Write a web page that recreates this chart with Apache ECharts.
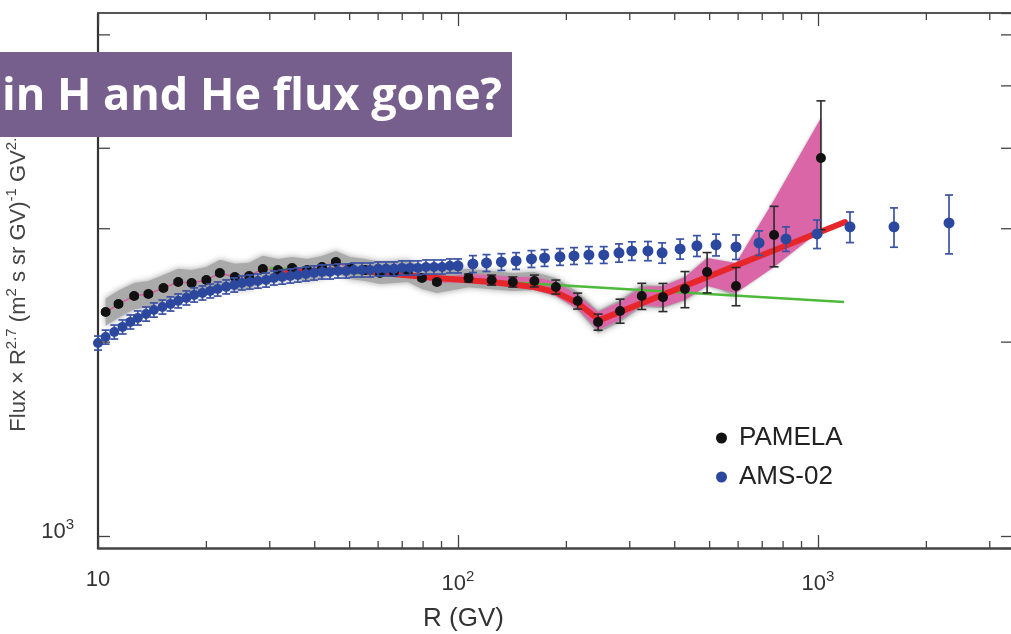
<!DOCTYPE html>
<html><head><meta charset="utf-8">
<script src="https://cdn.jsdelivr.net/npm/echarts@6/dist/echarts.min.js"></script>
<style>html,body{margin:0;padding:0;background:#fff}#c{width:1011px;height:634px}</style>
</head><body><div id="c"></div>
<script>
// ---------- data ----------
const pamelaR = [10.5, 11.4, 12.6, 13.8, 15.2, 16.7, 18.2, 20.0, 21.8, 24.0, 26.3, 28.7, 31.6, 34.6, 38.1, 41.9, 45.8, 50.1, 55.2, 60.7, 66.4, 72.6, 79.4, 87.4, 107, 124, 142, 163, 187, 215, 245, 282, 324, 371, 427, 492, 592, 755, 1019];
const pamelaFlux = [2227, 2292, 2358, 2375, 2427, 2480, 2471, 2497, 2561, 2525, 2534, 2598, 2588, 2607, 2588, 2617, 2664, 2607, 2588, 2561, 2570, 2579, 2515, 2480, 2515, 2497, 2480, 2489, 2436, 2317, 2149, 2236, 2358, 2349, 2418, 2570, 2445, 2934, 3864];
const pamelaErr = [15, 15, 16, 16, 16, 17, 17, 17, 18, 18, 18, 18, 19, 19, 19, 19, 20, 20, 20, 20, 21, 21, 21, 21, 36, 45, 45, 53, 61, 66, 62, 96, 110, 118, 156, 185, 167, 316, 875];
// relative half-width of the grey systematic band (null = no band)
const pamelaSysRel = [0.050, 0.050, 0.048, 0.048, 0.048, 0.048, 0.048, 0.048, 0.048, 0.048, 0.048, 0.048, 0.040, 0.040, 0.040, 0.040, 0.040, 0.040, 0.040, 0.040, 0.040, 0.040, 0.040, 0.040, 0.033, 0.033, 0.033, 0.033, 0.033, 0.033, 0.040, 0.040, 0.040, 0.040, 0.040, 0.040, 0.040, null, null];

const pinkR = [87.4, 107, 124, 142, 163, 187, 215, 245, 282, 324, 371, 427, 492, 592, 755, 1019];
const pinkLow = [2471, 2480, 2454, 2436, 2410, 2358, 2252, 2088, 2164, 2283, 2267, 2325, 2445, 2384, 2617, 2987];
const pinkHigh = [2515, 2552, 2543, 2525, 2525, 2480, 2367, 2227, 2308, 2436, 2445, 2525, 2702, 2654, 3324, 4458];

const redR = [31.6, 50.1, 87.4, 124, 163, 187, 215, 247, 1189];
const redFlux = [2570, 2588, 2515, 2480, 2436, 2392, 2300, 2164, 3073];

const greenR = [30.0, 187, 1181];
const greenFlux = [2607, 2454, 2308];

const amsR = [10.0, 10.5, 11.1, 11.7, 12.3, 12.9, 13.6, 14.3, 15.1, 15.9, 16.7, 17.6, 18.5, 19.5, 20.5, 21.5, 22.7, 23.9, 25.1, 26.4, 27.8, 29.3, 30.8, 32.5, 34.2, 35.9, 37.8, 39.8, 41.9, 44.1, 46.4, 48.9, 51.4, 54.1, 57.0, 60.0, 63.1, 66.4, 69.9, 73.6, 77.4, 81.5, 85.8, 90.3, 95.0, 100,
  110, 120, 132, 145, 160, 174, 192, 210, 231, 254, 280, 304, 337, 369, 414, 461, 521, 592, 686, 815, 994, 1227, 1626, 2312];
const amsFlux = [1994, 2037, 2074, 2112, 2150, 2181, 2212, 2244, 2268, 2293, 2318, 2343, 2368, 2385, 2402, 2419, 2437, 2454, 2472, 2480, 2489, 2498, 2516, 2525, 2534, 2543, 2552, 2562, 2571, 2571, 2580, 2580, 2589, 2589, 2589, 2599, 2599, 2599, 2608, 2608, 2608, 2617, 2617, 2617, 2627, 2627,
  2645, 2655, 2664, 2674, 2693, 2703, 2713, 2722, 2732, 2732, 2752, 2771, 2771, 2752, 2791, 2822, 2832, 2811, 2852, 2893, 2945, 3020, 3020, 3063];
const amsErr = [50, 51, 52, 53, 54, 55, 56, 57, 57, 58, 58, 59, 60, 60, 60, 61, 61, 62, 62, 62, 63, 63, 63, 64, 64, 64, 64, 65, 65, 65, 65, 65, 65, 65, 65, 65, 65, 65, 66, 66, 66, 66, 66, 66, 66, 66,
  80, 80, 80, 80, 81, 81, 81, 82, 82, 82, 90, 92, 95, 100, 100, 105, 110, 123, 125, 127, 150, 165, 212, 321];

const xMinorTicks = [20, 30, 40, 50, 60, 70, 80, 90, 200, 300, 400, 500, 600, 700, 800, 900, 2000, 3000];
const yMinorTicks = [2000, 3000, 4000, 5000, 6000];

const titleText = 'in H and He flux gone?';
const xName = 'R (GV)';
const yNameRich = '{n|Flux × R}{s|2.7}{n| (m}{s|2}{n| s sr GV)}{s|-1}{n| GV}{s|2.7}';

// ---------- chart ----------
const X_MIN = 10, X_MAX = 3481, Y_MIN = 958, Y_MAX = 6488;
const FONT = 'Liberation Sans';
const chart = echarts.init(document.getElementById('c'));

function powLabel(v) {
  const l = Math.log10(v), e = Math.round(l);
  if (Math.abs(l - e) > 1e-6) return '';
  return e === 1 ? '{b|10}' : '{b|10}{s|' + e + '}';
}
const labelRich = {
  b: {fontSize: 22, fontFamily: FONT, color: '#333'},
  s: {fontSize: 15, fontFamily: FONT, color: '#333', padding: [0, 0, 14, 0]}
};

function errRender(capW, color, lw) {
  return function (params, api) {
    const x = api.value(0), lo = api.value(1), hi = api.value(2);
    const a = api.coord([x, hi]), b = api.coord([x, lo]);
    const st = {stroke: color, lineWidth: lw};
    return {type: 'group', children: [
      {type: 'line', shape: {x1: a[0], y1: a[1], x2: b[0], y2: b[1]}, style: st},
      {type: 'line', shape: {x1: a[0] - capW / 2, y1: a[1], x2: a[0] + capW / 2, y2: a[1]}, style: st},
      {type: 'line', shape: {x1: b[0] - capW / 2, y1: b[1], x2: b[0] + capW / 2, y2: b[1]}, style: st}
    ]};
  };
}
function bandRender(rows, style) {
  return function (params, api) {
    if (params.dataIndex !== 0) return null;
    const up = [], dn = [];
    rows.forEach(r => { up.push(api.coord([r[0], r[2]])); dn.push(api.coord([r[0], r[1]])); });
    return {type: 'polygon', shape: {points: up.concat(dn.reverse())}, style: style};
  };
}

const grayRows = [];
pamelaR.forEach((r, i) => {
  const f = pamelaSysRel[i];
  if (f != null) grayRows.push([r, pamelaFlux[i] / (1 + f), pamelaFlux[i] * (1 + f)]);
});
const pinkRows = pinkR.map((r, i) => [r, pinkLow[i], pinkHigh[i]]);
const lowPam = pamelaR.map((r, i) => [r, pamelaFlux[i]]).filter(p => p[0] < 90);

const option = {
  animation: false,
  backgroundColor: '#fff',
  grid: {left: 98, top: 13, width: 915, height: 535, containLabel: false, outerBoundsMode: 'none'},
  xAxis: [{
    type: 'log', min: X_MIN, max: X_MAX, position: 'bottom',
    axisLine: {lineStyle: {color: '#444', width: 2.5}},
    axisTick: {inside: true, length: 13, lineStyle: {color: '#444', width: 1.3}},
    axisLabel: {formatter: powLabel, rich: labelRich, margin: 21, showMinLabel: true, showMaxLabel: false},
    splitLine: {show: false},
    name: xName, nameLocation: 'middle', nameGap: 58,
    nameTextStyle: {fontSize: 26, fontFamily: FONT, color: '#333', padding: [0, 184, 0, 0]}
  }, {
    type: 'log', min: X_MIN, max: X_MAX, position: 'top',
    axisLine: {lineStyle: {color: '#555', width: 1.8}},
    axisTick: {inside: true, length: 13, lineStyle: {color: '#444', width: 1.3}},
    axisLabel: {show: false}, splitLine: {show: false}
  }],
  yAxis: [{
    type: 'log', min: Y_MIN, max: Y_MAX, position: 'left',
    axisLine: {lineStyle: {color: '#333', width: 2.2}},
    axisTick: {inside: true, length: 12, lineStyle: {color: '#444', width: 1.3}},
    axisLabel: {formatter: powLabel, rich: labelRich, margin: 24, padding: [0, 0, 8, 0], showMinLabel: false, showMaxLabel: false},
    splitLine: {show: false},
    name: yNameRich, nameLocation: 'middle', nameRotate: 90, nameGap: 58,
    nameTextStyle: {rich: {
      n: {fontSize: 22, fontFamily: FONT, color: '#444'},
      s: {fontSize: 15, fontFamily: FONT, color: '#444', padding: [0, 0, 14, 0]}
    }}
  }, {
    type: 'log', min: Y_MIN, max: Y_MAX, position: 'right',
    axisLine: {lineStyle: {color: '#444', width: 2}},
    axisTick: {inside: true, length: 12, lineStyle: {color: '#444', width: 1.3}},
    axisLabel: {show: false}, splitLine: {show: false}
  }],
  legend: {
    orient: 'vertical', left: 711, top: 420, itemWidth: 11, itemHeight: 11, itemGap: 13,
    icon: 'circle', selectedMode: false,
    data: ['PAMELA', 'AMS-02'],
    textStyle: {fontSize: 26, fontFamily: FONT, color: '#222', padding: [0, 0, 0, 7]}
  },
  series: [
    {type: 'custom', name: 'sys', z: 1, silent: true,
      data: grayRows, encode: {x: 0, y: [1, 2]},
      renderItem: bandRender(grayRows, {fill: '#aaaaaa', shadowBlur: 6, shadowColor: 'rgba(150,150,150,0.9)'})},
    {type: 'custom', name: 'pinkband', z: 2, silent: true,
      data: pinkRows, encode: {x: 0, y: [1, 2]},
      renderItem: bandRender(pinkRows, {fill: '#db66a7', shadowBlur: 3, shadowColor: 'rgba(150,150,150,0.7)'})},
    {type: 'line', name: 'pinkline', z: 2, silent: true, data: lowPam, symbol: 'none',
      lineStyle: {color: '#d95aa0', width: 1.5}},
    {type: 'line', name: 'single', z: 3, silent: true, symbol: 'none',
      data: greenR.map((r, i) => [r, greenFlux[i]]),
      lineStyle: {color: '#4dba3b', width: 2.5}},
    {type: 'line', name: 'fit', z: 4, silent: true, symbol: 'none',
      data: redR.map((r, i) => [r, redFlux[i]]),
      lineStyle: {color: '#e6262b', width: 6, cap: 'round', join: 'round'}},
    {type: 'custom', name: 'pamErr', z: 5, silent: true,
      data: pamelaR.map((r, i) => [r, pamelaFlux[i] - pamelaErr[i], pamelaFlux[i] + pamelaErr[i]]),
      encode: {x: 0, y: [1, 2]},
      renderItem: errRender(9, '#2a2a2a', 1.6)},
    {type: 'scatter', name: 'PAMELA', z: 6, symbol: 'circle', symbolSize: 10,
      data: pamelaR.map((r, i) => [r, pamelaFlux[i]]),
      itemStyle: {color: '#111', opacity: 1}},
    {type: 'custom', name: 'amsErr', z: 7, silent: true,
      data: amsR.map((r, i) => [r, amsFlux[i] - amsErr[i], amsFlux[i] + amsErr[i]]),
      encode: {x: 0, y: [1, 2]},
      renderItem: errRender(8, '#3a52a6', 1.7)},
    {type: 'scatter', name: 'AMS-02', z: 8, symbol: 'circle',
      symbolSize: (v) => v[0] < 100 ? 10 : 11,
      data: amsR.map((r, i) => [r, amsFlux[i]]),
      itemStyle: {color: '#2c489e', opacity: 1}},
    {type: 'custom', name: 'xminor', z: 9, silent: true,
      data: xMinorTicks.map(v => [v, 1000]), encode: {x: 0, y: 1},
      renderItem: function (params, api) {
        const cs = params.coordSys;
        const x = api.coord([api.value(0), 1000])[0];
        const st = {stroke: '#444', lineWidth: 1.3};
        return {type: 'group', children: [
          {type: 'line', shape: {x1: x, y1: cs.y + cs.height, x2: x, y2: cs.y + cs.height - 7}, style: st},
          {type: 'line', shape: {x1: x, y1: cs.y, x2: x, y2: cs.y + 7}, style: st}
        ]};
      }},
    {type: 'custom', name: 'yminor', z: 9, silent: true,
      data: yMinorTicks.map(v => [10, v]), encode: {x: 0, y: 1},
      renderItem: function (params, api) {
        const cs = params.coordSys;
        const y = api.coord([10, api.value(1)])[1];
        const st = {stroke: '#444', lineWidth: 1.3};
        return {type: 'group', children: [
          {type: 'line', shape: {x1: cs.x, y1: y, x2: cs.x + 12, y2: y}, style: st},
          {type: 'line', shape: {x1: cs.x + cs.width - 12, y1: y, x2: cs.x + cs.width, y2: y}, style: st}
        ]};
      }}
  ],
  graphic: [
    {type: 'rect', x: 0, y: 52, z: 100, shape: {width: 512, height: 85}, style: {fill: '#775f8d'}},
    {type: 'text', x: 2, y: 97, z: 101, style: {
      text: titleText, font: 'bold 45px "Open Sans"', fill: '#fff',
      textAlign: 'left', textVerticalAlign: 'middle', align: 'left', verticalAlign: 'middle'}}
  ]
};
chart.setOption(option);
</script>
</body></html>
